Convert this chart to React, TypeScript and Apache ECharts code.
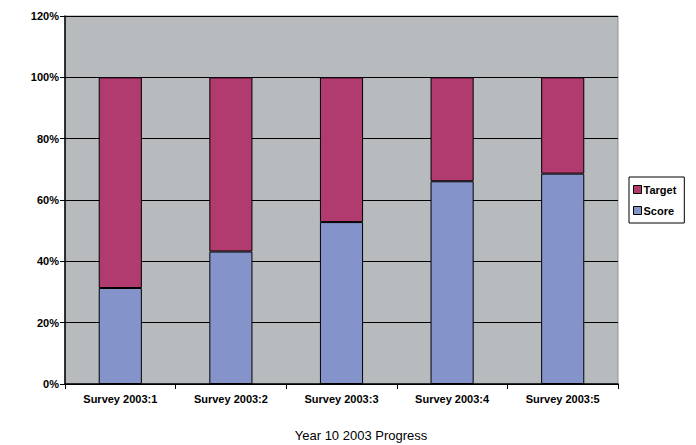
import React, { useEffect, useRef } from "react";
import * as echarts from "echarts";

const categories = ["Survey 2003:1", "Survey 2003:2", "Survey 2003:3", "Survey 2003:4", "Survey 2003:5"];
const scoreValues = [31.3, 43.2, 52.8, 66.1, 68.6];
const targetValues = [68.7, 56.8, 47.2, 33.9, 31.4];
const yTicks = [0, 20, 40, 60, 80, 100, 120];
const chartTitle = "Year 10 2003 Progress";

export default function App() {
  const ref = useRef<HTMLDivElement>(null);
  useEffect(() => {
    if (!ref.current) return;
    const chart = echarts.init(ref.current, undefined, { renderer: "svg" });
    const font = "Liberation Sans, Arial, sans-serif";
    chart.setOption({
      animation: false,
      backgroundColor: "#ffffff",
      title: {
        text: chartTitle,
        left: 356,
        top: 424,
        textAlign: "center",
        textStyle: { fontSize: 13, fontWeight: "normal", color: "#000", fontFamily: font },
      },
      legend: {
        data: ["Target", "Score"],
        orient: "vertical",
        left: 629,
        top: 177,
        padding: [7, 8, 7, 4],
        itemGap: 10,
        itemWidth: 8,
        itemHeight: 8,
        borderColor: "#000",
        borderWidth: 1,
        icon: "rect",
        itemStyle: { borderColor: "#000", borderWidth: 1 },
        textStyle: { fontSize: 11, fontWeight: "bold", color: "#000", fontFamily: font, padding: [0, 0, 0, -3] },
      },
      grid: {
        left: 65,
        right: 78,
        top: 16,
        bottom: 61,
        show: true,
        backgroundColor: "#b7bbbd",
        borderColor: "#8e9294",
        borderWidth: 1,
      },
      xAxis: {
        type: "category",
        data: categories,
        axisLine: { lineStyle: { color: "#000", width: 1.5 } },
        axisTick: { show: true, length: 5, lineStyle: { color: "#000" } },
        axisLabel: { fontSize: 11, fontWeight: "bold", color: "#000", fontFamily: font, margin: 9 },
      },
      yAxis: {
        type: "value",
        min: yTicks[0],
        max: yTicks[yTicks.length - 1],
        interval: 20,
        axisLine: { show: true, lineStyle: { color: "#000", width: 1.5 } },
        axisTick: { show: true, length: 5, lineStyle: { color: "#000" } },
        axisLabel: { formatter: "{value}%", fontSize: 11, fontWeight: "bold", color: "#000", fontFamily: font, margin: 6 },
        splitLine: { show: true, lineStyle: { color: "#000", width: 1 } },
      },
      series: [
        {
          name: "Score",
          type: "bar",
          stack: "total",
          data: scoreValues,
          barWidth: "39%",
          itemStyle: { color: "#8593cb", borderColor: "#000", borderWidth: 1 },
        },
        {
          name: "Target",
          type: "bar",
          stack: "total",
          data: targetValues,
          barWidth: "39%",
          itemStyle: { color: "#b13a6f", borderColor: "#000", borderWidth: 1 },
        },
      ],
    });
    return () => chart.dispose();
  }, []);
  return <div ref={ref} style={{ width: 696, height: 445, position: "absolute", left: 0, top: 0 }} />;
}
